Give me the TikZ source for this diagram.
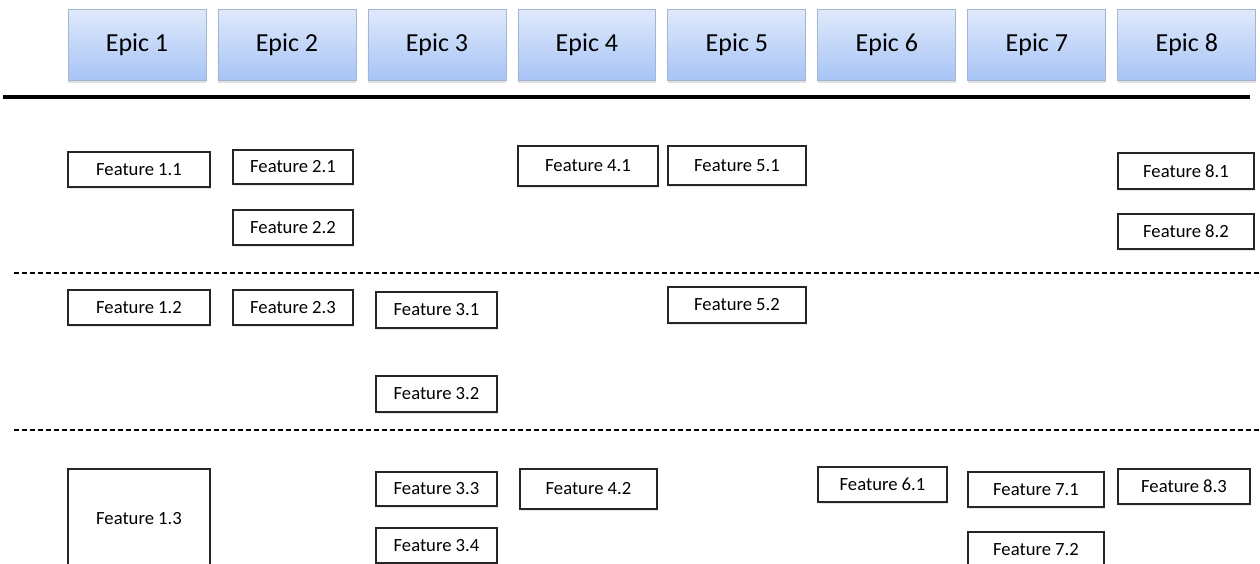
\documentclass[tikz,border=0pt]{standalone}
\usepackage{fontspec}
\setmainfont{Carlito}
\usepackage{xcolor}
\usepackage{tikz}
\usetikzlibrary{positioning,shadows}

\definecolor{epictop}{HTML}{DFE9FB}
\definecolor{epicbot}{HTML}{A7C4F6}
\definecolor{epicline}{HTML}{A3B5D3}

\begin{document}
\begin{tikzpicture}[
  x=0.02cm, y=-0.02cm,
  node distance=0.2225cm,
  epic/.style={draw=epicline, line width=0.5pt, top color=epictop, bottom color=epicbot,
               minimum width=2.76cm, minimum height=1.42cm, inner sep=0pt,
               font=\fontsize{14.8}{16}\selectfont,
               drop shadow={opacity=0.25, shadow xshift=0pt, shadow yshift=-1.5pt}},
  feat/.style={draw=black!85, line width=0.7pt, fill=white, inner sep=0pt,
               minimum width=2.4cm, minimum height=0.7cm,
               font=\fontsize{10.6}{12}\selectfont,
               drop shadow={opacity=0.2, shadow xshift=0.8pt, shadow yshift=-1.2pt}},
  lane/.style={line width=1.1pt, dash pattern=on 0.11cm off 0.05cm,
               drop shadow={opacity=0.15, shadow xshift=0pt, shadow yshift=-1.2pt}}
]
\useasboundingbox (0,0) rectangle (1260,564);
\clip (0,0) rectangle (1260,564);

% epics
\node[epic] (e1) at (137,45) {Epic 1};
\node[epic, right=of e1] (e2) {Epic 2};
\node[epic, right=of e2] (e3) {Epic 3};
\node[epic, right=of e3] (e4) {Epic 4};
\node[epic, right=of e4] (e5) {Epic 5};
\node[epic, right=of e5] (e6) {Epic 6};
\node[epic, right=of e6] (e7) {Epic 7};
\node[epic, right=of e7] (e8) {Epic 8};

% separators
\draw[line width=2.3pt, drop shadow={opacity=0.2, shadow xshift=0pt, shadow yshift=-1.2pt}] (3,97) -- (1250,97);
\draw[lane] (14,273) -- (1262,273);
\draw[lane] (14,430) -- (1262,430);

% first band
\node[feat, minimum width=2.84cm] (f11) at (139,169.5) {Feature 1.1};
\node[feat, minimum height=0.68cm] (f21) at (293,167) {Feature 2.1};
\node[feat] (f22) at (293,227.5) {Feature 2.2};
\node[feat, minimum width=2.8cm, minimum height=0.8cm] (f41) at (588,166) {Feature 4.1};
\node[feat, minimum width=2.76cm, minimum height=0.78cm] (f51) at (737,165.5) {Feature 5.1};
\node[feat, minimum width=2.72cm, minimum height=0.72cm] (f81) at (1186,171) {Feature 8.1};
\node[feat, minimum width=2.72cm] (f82) at (1186,231.5) {Feature 8.2};

% second band
\node[feat, minimum width=2.84cm] (f12) at (139,307.5) {Feature 1.2};
\node[feat] (f23) at (293,307.5) {Feature 2.3};
\node[feat, minimum width=2.42cm, minimum height=0.72cm] (f31) at (436.5,310) {Feature 3.1};
\node[feat, minimum width=2.42cm, minimum height=0.72cm] (f32) at (436.5,394) {Feature 3.2};
\node[feat, minimum width=2.76cm, minimum height=0.72cm] (f52) at (737,305) {Feature 5.2};

% third band
\node[feat, minimum width=2.84cm, minimum height=2cm] (f13) at (139,519) {Feature 1.3};
\node[feat, minimum width=2.42cm, minimum height=0.68cm] (f33) at (436.5,489) {Feature 3.3};
\node[feat, minimum width=2.42cm] (f34) at (436.5,545.5) {Feature 3.4};
\node[feat, minimum width=2.74cm, minimum height=0.8cm] (f42) at (588.5,489) {Feature 4.2};
\node[feat, minimum width=2.58cm] (f61) at (882.5,484.5) {Feature 6.1};
\node[feat, minimum width=2.72cm] (f71) at (1036,489.5) {Feature 7.1};
\node[feat, minimum width=2.72cm] (f72) at (1036,549.5) {Feature 7.2};
\node[feat, minimum width=2.64cm] (f83) at (1184,486.5) {Feature 8.3};
\end{tikzpicture}
\end{document}
